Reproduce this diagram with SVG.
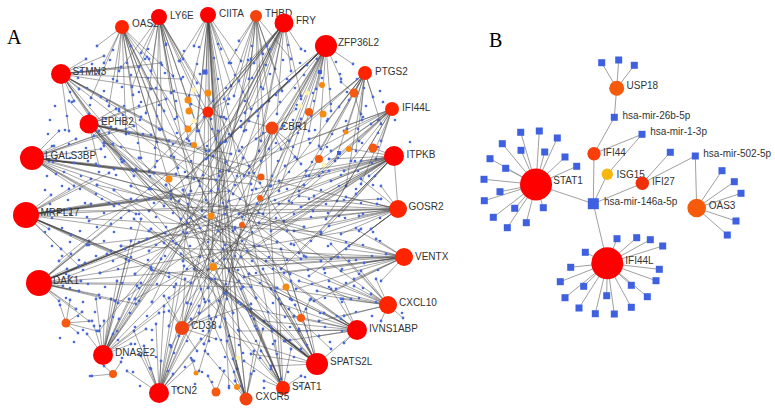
<svg xmlns="http://www.w3.org/2000/svg" xmlns:xlink="http://www.w3.org/1999/xlink" width="775" height="412" viewBox="0 0 775 412">
<style>
.e{fill:none;stroke:#444;stroke-width:.62;stroke-opacity:.78;marker-start:url(#dot);marker-mid:url(#dot);marker-end:url(#dot)}
.d{fill:none;stroke:#4a6ad8;stroke-width:2.7;stroke-linecap:round}
.be{fill:none;stroke:#a0a0a0;stroke-width:1}
.r1{fill:#ff0000}.r2{fill:#ff2400}.r3{fill:#f3430f}
.o1{fill:#f88a10}.o2{fill:#f55a12}.py{fill:#fff5b0}
.bs{fill:#3f60e0}
.t{font-family:"Liberation Sans",Arial,sans-serif;font-size:10px;fill:#333}
.p{font-family:"Liberation Serif","Times New Roman",serif;font-size:20px;fill:#000}
</style>
<defs>
<marker id="dot" viewBox="-2 -2 4 4" refX="0" refY="0" markerWidth="4" markerHeight="4" markerUnits="userSpaceOnUse"><circle r="1.4" fill="#4a6ad8"/></marker>
<rect id="sq" class="bs" x="-3.5" y="-3.5" width="7" height="7"/>
</defs>
<rect width="775" height="412" fill="#fff"/>
<text class="p" x="7" y="44">A</text>
<text class="p" x="489" y="47">B</text>
<g id="edges-a">
<path class="e" d="M122 27L104 63M122 27L117 81M122 27L133 95M122 27L147 57M122 27L151 89M122 27L164 111M122 27L126 134M122 27L141 158M122 27L173 76M122 27L109 106M122 27L157 142M122 27L186 127M122 27L97 46M122 27L178 168M122 27L205 302M122 27L91 98M122 27L272 331M122 27L233 313"/>
<path class="e" d="M159 17L141 53M159 17L151 71M159 17L166 44M159 17L171 93M159 17L183 59M159 17L146 113M159 17L197 83M159 17L162 129M159 17L189 141M159 17L132 87M159 17L177 117M159 17L206 151M159 17L119 71M159 17L155 167M159 17L191 191M159 17L211 119M159 17L291 299M159 17L256 298M159 17L304 256"/>
<path class="e" d="M208 15L206 73M208 15L194 46M208 15L221 49M208 15L231 86M208 15L213 101M208 15L197 131M208 15L226 141M208 15L241 61M208 15L219 176M208 15L202 211M208 15L233 231M208 15L213 261M208 15L227 299M208 15L209 341M208 15L237 369M208 15L189 96M208 15L251 109M208 15L179 61M208 15L229 388M208 15L246 399M208 15L283 388M208 15L183 261"/>
<path class="e" d="M256 16L239 41M256 16L263 54M256 16L249 79M256 16L275 69M256 16L234 96M256 16L269 101M256 16L244 131M256 16L291 59M256 16L221 117M256 16L259 151M256 16L229 63M256 16L282 91M256 16L281 379M256 16L199 313"/>
<path class="e" d="M284 23L267 46M284 23L254 63M284 23L239 81M284 23L224 99M284 23L204 117M284 23L187 139M284 23L171 156M284 23L149 171M284 23L263 89M284 23L245 113M284 23L231 136M284 23L213 156M284 23L291 71M284 23L301 96M284 23L277 114M284 23L261 141M284 23L199 181M284 23L179 201M284 23L301 49M284 23L229 171M284 23L139 301M284 23L220 327M284 23L152 302"/>
<path class="e" d="M326 46L307 65M326 46L289 81M326 46L276 95M326 46L257 111M326 46L241 127M326 46L221 143M326 46L206 159M326 46L187 177M326 46L171 191M326 46L149 211M326 46L301 99M326 46L284 126M326 46L269 149M326 46L249 173M326 46L233 194M326 46L316 89M326 46L309 131M326 46L297 159M326 46L279 191M326 46L263 214M326 46L341 79M326 46L331 111M326 46L319 146M326 46L353 64M326 46L99 331M326 46L59 261M326 46L169 326M326 46L204 344"/>
<path class="e" d="M365 73L355 92M365 73L339 107M365 73L327 121M365 73L347 129M365 73L321 149M365 73L361 114M365 73L373 97M365 73L335 161M365 73L309 176M365 73L356 151M365 73L299 126M365 73L381 124M365 73L289 201M365 73L346 186M365 73L149 251M365 73L187 303M365 73L135 274"/>
<path class="e" d="M392 109L371 124M392 109L359 141M392 109L344 131M392 109L351 161M392 109L331 151M392 109L319 176M392 109L376 159M392 109L299 191M392 109L337 201M392 109L361 184M392 109L309 139M392 109L285 166M392 109L381 141M392 109L326 219M392 109L89 221M392 109L118 303M392 109L169 298"/>
<path class="e" d="M394 156L371 147M394 156L361 161M394 156L344 171M394 156L331 181M394 156L314 196M394 156L301 207M394 156L284 221M394 156L271 231M394 156L254 246M394 156L241 257M394 156L351 149M394 156L329 159M394 156L306 171M394 156L279 181M394 156L256 189M394 156L229 201M394 156L369 176M394 156L356 194M394 156L339 216M394 156L321 234M394 156L299 253M394 156L281 269M394 156L69 276M394 156L398 209M394 156L100 273M394 156L135 299"/>
<path class="e" d="M398 209L377 204M398 209L359 216M398 209L346 197M398 209L329 226M398 209L313 211M398 209L294 231M398 209L279 204M398 209L259 223M398 209L239 214M398 209L371 229M398 209L349 246M398 209L331 259M398 209L309 276M398 209L291 244M398 209L381 186M398 209L361 179M398 209L341 234M398 209L299 196M398 209L59 211M398 209L87 245M398 209L104 143"/>
<path class="e" d="M404 257L386 254M404 257L364 263M404 257L346 249M404 257L324 269M404 257L306 257M404 257L284 273M404 257L266 261M404 257L244 277M404 257L224 259M404 257L376 239M404 257L354 279M404 257L336 289M404 257L314 301M404 257L296 289M404 257L209 269M404 257L381 281M404 257L359 231M404 257L341 271M404 257L49 161M404 257L97 185M404 257L121 246"/>
<path class="e" d="M388 305L371 294M388 305L354 286M388 305L341 299M388 305L361 271M388 305L349 261M388 305L329 281M388 305L317 291M388 305L376 279M388 305L344 316M388 305L319 321M388 305L381 321M388 305L331 244M388 305L299 281M388 305L403 318M388 305L119 111M388 305L152 270M388 305L131 186"/>
<path class="e" d="M357 330L341 319M357 330L324 313M357 330L311 299M357 330L294 316M357 330L281 304M357 330L264 321M357 330L251 309M357 330L343 299M357 330L319 336M357 330L299 331M357 330L331 289M357 330L344 343M357 330L285 341M357 330L271 289M357 330L249 274M357 330L239 331M357 330L89 131M357 330L122 162M357 330L149 231"/>
<path class="e" d="M317 364L301 349M317 364L284 341M317 364L271 327M317 364L254 319M317 364L241 304M317 364L224 293M317 364L211 279M317 364L194 269M317 364L181 254M317 364L164 243M317 364L151 229M317 364L134 219M317 364L299 329M317 364L289 309M317 364L275 291M317 364L263 269M317 364L247 251M317 364L235 229M317 364L306 309M317 364L291 281M317 364L281 249M317 364L229 336M317 364L251 354M317 364L271 366M317 364L69 101M317 364L357 330M317 364L139 158M317 364L114 190"/>
<path class="e" d="M283 388L271 369M283 388L261 351M283 388L257 329M283 388L247 309M283 388L241 289M283 388L229 271M283 388L223 249M283 388L275 341M283 388L291 349M283 388L264 381M283 388L244 361M283 388L209 301M283 388L279 299M283 388L301 376M283 388L149 59M283 388L166 185M283 388L104 143"/>
<path class="e" d="M246 399L235 381M246 399L233 359M246 399L227 341M246 399L225 319M246 399L219 301M246 399L215 279M246 399L251 374M246 399L254 351M246 399L241 386M246 399L205 351M246 399L263 329M246 399L211 319M246 399L218 131M246 399L183 190"/>
<path class="e" d="M159 393L151 369M159 393L161 361M159 393L171 347M159 393L179 336M159 393L191 319M159 393L199 306M159 393L144 346M159 393L156 324M159 393L164 306M159 393L176 284M159 393L184 266M159 393L141 356M159 393L134 331M159 393L201 339M159 393L209 331M159 393L127 371M159 393L194 361M159 393L173 374M159 393L301 119M159 393L226 162M159 393L262 106"/>
<path class="e" d="M182 328L169 311M182 328L191 304M182 328L201 289M182 328L164 296M182 328L209 316M182 328L216 339M182 328L197 351M182 328L226 294M182 328L171 346M182 328L239 281M182 328L251 304M182 328L185 279M182 328L251 59M182 328L270 186"/>
<path class="e" d="M103 355L113 334M103 355L119 319M103 355L129 299M103 355L137 286M103 355L151 269M103 355L161 259M103 355L176 244M103 355L187 233M103 355L104 321M103 355L111 299M103 355L117 281M103 355L126 259M103 355L131 241M103 355L141 219M103 355L94 326M103 355L131 344M103 355L146 329M103 355L159 313M103 355L96 299M103 355L87 334M103 355L329 171M103 355L243 158M103 355L295 157"/>
<path class="e" d="M39 283L63 286M39 283L79 291M39 283L99 295M39 283L115 301M39 283L136 304M39 283L67 269M39 283L85 263M39 283L107 254M39 283L125 249M39 283L147 239M39 283L165 233M39 283L187 223M39 283L205 217M39 283L227 207M39 283L59 301M39 283L76 309M39 283L89 321M39 283L71 254M39 283L89 241M39 283L111 224M39 283L129 211M39 283L81 281M39 283L141 283M39 283L251 287M39 283L361 229M39 283L304 185M39 283L321 261"/>
<path class="e" d="M26 215L51 211M26 215L69 209M26 215L91 204M26 215L109 203M26 215L131 199M26 215L149 199M26 215L171 195M26 215L189 195M26 215L211 191M26 215L229 191M26 215L49 229M26 215L71 235M26 215L89 245M26 215L111 251M26 215L129 261M26 215L151 267M26 215L169 277M26 215L191 283M26 215L51 195M26 215L69 189M26 215L91 179M26 215L109 173M26 215L61 249M26 215L79 266M26 215L381 199M26 215L321 232M26 215L338 257"/>
<path class="e" d="M32 158L56 159M32 158L74 163M32 158L96 164M32 158L114 169M32 158L136 169M32 158L154 173M32 158L176 174M32 158L194 179M32 158L216 180M32 158L54 146M32 158L76 139M32 158L94 136M32 158L116 129M32 158L134 126M32 158L56 174M32 158L74 186M32 158L96 194M32 158L114 206M32 158L136 214M32 158L59 131M32 158L101 149M32 158L251 184M32 158L351 299M32 158L304 227M32 158L277 242"/>
<path class="e" d="M89 124L111 127M89 124L129 133M89 124L151 135M89 124L169 141M89 124L191 144M89 124L209 151M89 124L231 154M89 124L104 146M89 124L121 159M89 124L134 176M89 124L151 189M89 124L164 206M89 124L181 219M89 124L116 109M89 124L139 106M89 124L166 99M89 124L99 166M89 124L249 166M89 124L331 349M89 124L277 288M89 124L290 274"/>
<path class="e" d="M61 74L81 71M61 74L99 71M61 74L121 67M61 74L139 67M61 74L161 63M61 74L79 89M61 74L101 97M61 74L119 109M61 74L141 117M61 74L159 129M61 74L74 101M61 74L89 114M61 74L99 131M61 74L113 144M61 74L124 161M61 74L86 59M61 74L104 56M61 74L181 79M61 74L199 96M61 74L69 131M61 74L301 259M61 74L243 287M61 74L260 183"/>
<path class="e" d="M272 128L256 139M272 128L261 161M272 128L281 149M272 128L289 141M272 128L249 121M272 128L296 109M272 128L239 151M272 128L271 186M272 128L301 164M272 128L244 176M272 128L199 371"/>
<path class="e" d="M208 112L191 104M208 112L226 119M208 112L216 139M208 112L199 131M208 112L229 99"/>
<path class="e" d="M66 323L70 300M66 323L82 312M66 323L92 321M66 323L97 331M66 323L78 333M66 323L60 305M113 374L92 376M113 374L121 362M113 374L104 366M216 392L208 376M216 392L224 371M196 373L192 360M354 93L341 82M354 93L362 120M237 387L234 372M286 287L292 300M301 318L310 300M301 318L295 305"/>
</g>
<g id="mirna-dots-a">
<path class="d" d="M113 50h0M131 46h0M148 49h0M166 45h0M184 51h0M199 47h0M218 44h0M236 50h0M252 46h0M270 49h0M288 45h0M305 51h0M92 64h0M110 60h0M127 63h0M145 59h0M162 65h0M180 61h0M197 64h0M214 58h0M231 63h0M248 60h0M266 65h0M283 60h0M300 63h0M317 59h0M336 62h0M78 78h0M96 74h0M113 79h0M131 75h0M148 78h0M165 73h0M183 77h0M200 74h0M218 79h0M235 75h0M252 78h0M270 74h0M287 79h0M304 75h0M322 78h0M340 74h0M357 79h0M70 92h0M87 88h0M104 91h0M122 87h0M139 92h0M156 88h0M174 91h0M226 88h0M243 92h0M261 87h0M278 91h0M295 88h0M313 93h0M330 89h0M347 92h0M364 88h0M380 91h0M55 106h0M72 102h0M90 105h0M107 101h0M124 106h0M141 102h0M159 105h0M176 101h0M228 104h0M245 101h0M262 106h0M280 102h0M297 105h0M314 101h0M331 104h0M349 100h0M366 106h0M383 102h0M50 120h0M67 116h0M106 119h0M123 115h0M140 120h0M157 116h0M175 119h0M224 117h0M241 121h0M258 116h0M293 120h0M311 116h0M328 119h0M346 121h0M363 117h0M378 120h0M48 134h0M65 130h0M109 133h0M126 129h0M143 134h0M160 130h0M177 133h0M212 129h0M229 134h0M246 130h0M263 133h0M281 129h0M298 133h0M315 130h0M332 134h0M358 129h0M378 133h0M52 146h0M69 144h0M86 148h0M104 143h0M121 147h0M138 143h0M155 148h0M173 144h0M207 146h0M225 142h0M242 147h0M276 143h0M293 147h0M310 143h0M327 147h0M362 143h0M378 147h0M53 162h0M70 158h0M88 161h0M105 157h0M122 162h0M139 158h0M157 161h0M174 157h0M191 161h0M208 158h0M226 162h0M243 158h0M278 161h0M295 157h0M312 162h0M338 158h0M355 161h0M372 163h0M47 176h0M64 172h0M81 176h0M99 172h0M116 175h0M133 171h0M150 176h0M185 172h0M203 175h0M220 171h0M237 176h0M254 173h0M272 176h0M289 172h0M306 176h0M323 172h0M341 175h0M358 171h0M375 176h0M45 190h0M62 186h0M80 189h0M97 185h0M114 190h0M131 186h0M149 189h0M166 185h0M183 190h0M200 186h0M218 189h0M235 185h0M252 190h0M270 186h0M287 189h0M304 185h0M321 190h0M339 186h0M356 189h0M373 185h0M50 204h0M68 200h0M85 203h0M102 199h0M119 204h0M137 200h0M154 203h0M171 199h0M188 204h0M206 200h0M223 203h0M240 199h0M257 204h0M275 200h0M292 203h0M309 199h0M326 204h0M344 200h0M361 203h0M378 199h0M52 218h0M70 214h0M87 217h0M104 213h0M121 218h0M139 214h0M156 217h0M173 213h0M190 218h0M225 214h0M242 217h0M259 213h0M276 218h0M294 214h0M311 217h0M328 213h0M345 218h0M363 214h0M380 218h0M45 232h0M62 228h0M80 231h0M97 227h0M114 232h0M131 228h0M149 231h0M166 227h0M183 232h0M200 228h0M218 231h0M235 227h0M252 232h0M287 231h0M304 227h0M321 232h0M356 228h0M373 232h0M52 246h0M70 242h0M87 245h0M104 241h0M121 246h0M139 242h0M156 245h0M173 241h0M190 246h0M208 242h0M225 245h0M242 241h0M259 246h0M277 242h0M294 245h0M311 241h0M328 246h0M346 242h0M363 245h0M380 241h0M62 256h0M79 260h0M96 256h0M113 261h0M131 257h0M148 260h0M165 256h0M183 261h0M200 257h0M235 256h0M252 261h0M269 257h0M287 260h0M304 256h0M321 261h0M338 257h0M356 260h0M372 256h0M66 274h0M83 270h0M100 273h0M118 269h0M135 274h0M152 270h0M169 273h0M187 269h0M238 270h0M256 273h0M273 269h0M290 274h0M308 270h0M325 273h0M342 269h0M359 274h0M378 270h0M70 288h0M88 284h0M105 287h0M122 283h0M139 288h0M157 284h0M174 287h0M191 283h0M208 288h0M226 284h0M243 287h0M260 283h0M277 288h0M312 284h0M329 287h0M346 283h0M363 288h0M66 298h0M83 302h0M100 298h0M118 303h0M135 299h0M152 302h0M169 298h0M187 303h0M204 299h0M238 302h0M256 298h0M273 303h0M290 299h0M325 298h0M342 302h0M359 298h0M376 302h0M78 316h0M95 312h0M113 317h0M130 313h0M147 316h0M164 312h0M199 313h0M216 317h0M233 313h0M251 316h0M268 312h0M285 317h0M320 313h0M337 316h0M356 312h0M372 316h0M83 330h0M100 326h0M117 331h0M135 327h0M152 330h0M169 326h0M203 331h0M220 327h0M238 330h0M255 326h0M272 331h0M290 327h0M307 331h0M325 327h0M342 331h0M118 340h0M135 344h0M152 340h0M170 345h0M187 341h0M204 344h0M221 340h0M239 345h0M256 341h0M273 344h0M290 340h0M307 345h0M330 342h0M122 358h0M139 354h0M156 357h0M174 353h0M191 358h0M208 354h0M225 357h0M243 353h0M260 358h0M277 354h0M294 357h0M133 372h0M150 368h0M168 371h0M185 367h0M202 372h0M220 368h0M254 371h0M271 367h0M288 372h0M305 377h0M140 386h0M178 388h0M195 384h0M212 382h0M229 386h0M264 388h0M300 386h0M90 376h0M402 313h0M60 338h0M74 342h0M410 142h0M395 120h0"/>
</g>
<g id="minor-nodes-a">
<circle class="o1" cx="188" cy="100" r="3.5"/><circle class="o1" cx="208" cy="93" r="3.5"/><circle class="o1" cx="189" cy="111" r="3.5"/><circle class="o1" cx="188" cy="129" r="3.5"/><circle class="o1" cx="194" cy="145" r="3"/><circle class="o1" cx="169" cy="179" r="3.5"/><circle class="o1" cx="211" cy="216" r="3.5"/><circle class="o1" cx="213" cy="267" r="4"/><circle class="o2" cx="66" cy="323" r="4.5"/><circle class="o2" cx="113" cy="374" r="4"/><circle class="o1" cx="196" cy="373" r="2.5"/><circle class="o2" cx="216" cy="392" r="4.5"/><circle class="o1" cx="286" cy="287" r="3.5"/><circle class="o2" cx="301" cy="318" r="4"/><circle class="o1" cx="237" cy="387" r="3"/><circle class="o1" cx="322" cy="85" r="3"/><circle class="o2" cx="309" cy="112" r="4"/><circle class="o1" cx="323" cy="114" r="3.5"/><circle class="o1" cx="346" cy="132" r="2.5"/><circle class="o1" cx="349" cy="149" r="3"/><circle class="o2" cx="319" cy="159" r="4"/><circle class="o2" cx="261" cy="177" r="3.5"/><circle class="o2" cx="260" cy="198" r="3"/><circle class="o2" cx="242" cy="225" r="3"/><circle class="o2" cx="354" cy="93" r="4.5"/><circle class="o2" cx="373" cy="148" r="4.5"/><circle class="r2" cx="208" cy="112" r="5.5"/>
<circle class="py" cx="194" cy="90" r="2.5"/><circle class="py" cx="194" cy="121" r="2.5"/><circle class="py" cx="307" cy="93" r="2.5"/><circle class="py" cx="300" cy="106" r="2.5"/><circle class="py" cx="324" cy="165" r="2.5"/><circle class="py" cx="238" cy="358" r="2.5"/>
<rect class="bs" x="202.5" y="69.5" width="5" height="5"/><rect class="bs" x="318" y="70" width="4" height="4"/><rect class="bs" x="337" y="151" width="4" height="4"/>
</g>
<g id="a-oas2"><circle class="r2" cx="122" cy="27" r="7"/><text class="t" x="132" y="27">OAS2</text></g>
<g id="a-ly6e"><circle class="r1" cx="159" cy="17" r="8"/><text class="t" x="170" y="18.5">LY6E</text></g>
<g id="a-ciita"><circle class="r1" cx="208" cy="15" r="8"/><text class="t" x="219" y="17">CIITA</text></g>
<g id="a-thbd"><circle class="r3" cx="256" cy="16" r="6"/><text class="t" x="265" y="17">THBD</text></g>
<g id="a-fry"><circle class="r1" cx="284" cy="23" r="9.5"/><text class="t" x="296" y="23.5">FRY</text></g>
<g id="a-zfp36l2"><circle class="r1" cx="326" cy="46" r="11"/><text class="t" x="338" y="46">ZFP36L2</text></g>
<g id="a-ptgs2"><circle class="r2" cx="365" cy="73" r="7"/><text class="t" x="375" y="74.5">PTGS2</text></g>
<g id="a-ifi44l"><circle class="r2" cx="392" cy="109" r="7"/><text class="t" x="402" y="111">IFI44L</text></g>
<g id="a-cbr1"><circle class="r3" cx="272" cy="128" r="6.5"/><text class="t" x="281" y="129.5">CBR1</text></g>
<g id="a-itpkb"><circle class="r1" cx="394" cy="156" r="10"/><text class="t" x="406.5" y="157.5">ITPKB</text></g>
<g id="a-gosr2"><circle class="r2" cx="398" cy="209" r="9"/><text class="t" x="408.5" y="210">GOSR2</text></g>
<g id="a-ventx"><circle class="r2" cx="404" cy="257" r="9"/><text class="t" x="415" y="259.5">VENTX</text></g>
<g id="a-cxcl10"><circle class="r2" cx="388" cy="305" r="9"/><text class="t" x="399" y="306">CXCL10</text></g>
<g id="a-ivns1abp"><circle class="r1" cx="357" cy="330" r="10"/><text class="t" x="369" y="332">IVNS1ABP</text></g>
<g id="a-spats2l"><circle class="r1" cx="317" cy="364" r="11"/><text class="t" x="330" y="365">SPATS2L</text></g>
<g id="a-stat1"><circle class="r2" cx="283" cy="388" r="7"/><text class="t" x="292" y="390">STAT1</text></g>
<g id="a-cxcr5"><circle class="r3" cx="246" cy="399" r="6.5"/><text class="t" x="255.5" y="400">CXCR5</text></g>
<g id="a-tcn2"><circle class="r1" cx="159" cy="393" r="10"/><text class="t" x="171" y="393.5">TCN2</text></g>
<g id="a-cd38"><circle class="r3" cx="182" cy="328" r="7"/><text class="t" x="191" y="328.5">CD38</text></g>
<g id="a-dnase2"><circle class="r1" cx="103" cy="355" r="10"/><text class="t" x="115" y="356">DNASE2</text></g>
<g id="a-dak1"><circle class="r1" cx="39" cy="283" r="13"/><text class="t" x="53" y="283.5">DAK1</text></g>
<g id="a-mrpl17"><circle class="r1" cx="26" cy="215" r="13"/><text class="t" x="40.5" y="216">MRPL17</text></g>
<g id="a-lgals3bp"><circle class="r1" cx="32" cy="158" r="12"/><text class="t" x="45" y="158.5">LGALS3BP</text></g>
<g id="a-ephb2"><circle class="r1" cx="89" cy="124" r="9.5"/><text class="t" x="101" y="125">EPHB2</text></g>
<g id="a-stmn3"><circle class="r1" cx="61" cy="74" r="10"/><text class="t" x="72.5" y="75">STMN3</text></g>
<g id="edges-b">
<path class="be" d="M536 184.5L520.7 132.3M536 184.5L539.3 131M536 184.5L557.3 138M536 184.5L502.3 143.7M536 184.5L521 150.3M536 184.5L544.7 152M536 184.5L565 157M536 184.5L490 158.7M536 184.5L505.7 168.3M536 184.5L576.7 166.3M536 184.5L484 179.3M536 184.5L500 191.7M536 184.5L484.3 200.7M536 184.5L514.7 208.3M536 184.5L493.3 217.3M536 184.5L507.3 227.7M536 184.5L526.3 222.7M536 184.5L543.3 207.7M536 184.5L593.3 203.7"/>
<path class="be" d="M607.3 263.3L617 238.7M607.3 263.3L636.7 237.7M607.3 263.3L650.3 239.7M607.3 263.3L662.7 246M607.3 263.3L585.3 252.3M607.3 263.3L659.3 269.3M607.3 263.3L570.7 267.3M607.3 263.3L656 280.7M607.3 263.3L560.3 281.7M607.3 263.3L583.7 286.3M607.3 263.3L631.3 285.3M607.3 263.3L647.3 296.7M607.3 263.3L565 297.7M607.3 263.3L606.7 295.7M607.3 263.3L579 308M607.3 263.3L631.3 307.3M607.3 263.3L595.3 313.7M607.3 263.3L614.3 314M607.3 263.3L593.3 203.7"/>
<path class="be" d="M616.7 88.3L601.7 62.7M616.7 88.3L618.7 60M616.7 88.3L634.3 65.3M616.7 88.3L614.3 117.3M594 153.7L614.3 117.3M594 153.7L642 134.3M594 153.7L593.3 203.7M607.3 174.3L642 134.3M607.3 174.3L593.3 203.7M642.3 183.3L670.3 152.3M642.3 183.3L695.3 156M642.3 183.3L593.3 203.7M696.7 208L695.3 156M696.7 208L722 170.7M696.7 208L734.3 181.7M696.7 208L741 193.3M696.7 208L736 221M696.7 208L727.3 235"/>
</g>
<g id="b-stat1-targets">
<use href="#sq" x="520.7" y="132.3"/><use href="#sq" x="539.3" y="131"/><use href="#sq" x="557.3" y="138"/><use href="#sq" x="502.3" y="143.7"/><use href="#sq" x="521" y="150.3"/><use href="#sq" x="544.7" y="152"/><use href="#sq" x="565" y="157"/><use href="#sq" x="490" y="158.7"/><use href="#sq" x="505.7" y="168.3"/><use href="#sq" x="576.7" y="166.3"/><use href="#sq" x="484" y="179.3"/><use href="#sq" x="500" y="191.7"/><use href="#sq" x="484.3" y="200.7"/><use href="#sq" x="514.7" y="208.3"/><use href="#sq" x="493.3" y="217.3"/><use href="#sq" x="507.3" y="227.7"/><use href="#sq" x="526.3" y="222.7"/><use href="#sq" x="543.3" y="207.7"/>
</g>
<g id="b-ifi44l-targets">
<use href="#sq" x="617" y="238.7"/><use href="#sq" x="636.7" y="237.7"/><use href="#sq" x="650.3" y="239.7"/><use href="#sq" x="662.7" y="246"/><use href="#sq" x="585.3" y="252.3"/><use href="#sq" x="659.3" y="269.3"/><use href="#sq" x="570.7" y="267.3"/><use href="#sq" x="656" y="280.7"/><use href="#sq" x="560.3" y="281.7"/><use href="#sq" x="583.7" y="286.3"/><use href="#sq" x="631.3" y="285.3"/><use href="#sq" x="647.3" y="296.7"/><use href="#sq" x="565" y="297.7"/><use href="#sq" x="606.7" y="295.7"/><use href="#sq" x="579" y="308"/><use href="#sq" x="631.3" y="307.3"/><use href="#sq" x="595.3" y="313.7"/><use href="#sq" x="614.3" y="314"/>
</g>
<g id="b-usp18-targets"><use href="#sq" x="601.7" y="62.7"/><use href="#sq" x="618.7" y="60"/><use href="#sq" x="634.3" y="65.3"/></g>
<g id="b-oas3-targets"><use href="#sq" x="722" y="170.7"/><use href="#sq" x="734.3" y="181.7"/><use href="#sq" x="741" y="193.3"/><use href="#sq" x="736" y="221"/><use href="#sq" x="727.3" y="235"/><use href="#sq" x="670.3" y="152.3"/></g>
<g id="b-mir26b"><use href="#sq" x="614.3" y="117.3"/><text class="t" x="622.5" y="118.5">hsa-mir-26b-5p</text></g>
<g id="b-mir1"><use href="#sq" x="642" y="134.3"/><text class="t" x="650.3" y="135">hsa-mir-1-3p</text></g>
<g id="b-mir502"><use href="#sq" x="695.3" y="156"/><text class="t" x="703.3" y="157">hsa-mir-502-5p</text></g>
<g id="b-mir146a"><rect class="bs" x="587.8" y="198.2" width="11" height="11"/><text class="t" x="604" y="204.5">hsa-mir-146a-5p</text></g>
<g id="b-usp18"><circle cx="616.7" cy="88.3" r="7.5" fill="#f65b0c"/><text class="t" x="626.5" y="89">USP18</text></g>
<g id="b-ifi44"><circle cx="594" cy="153.7" r="6.7" fill="#f93d0b"/><text class="t" x="603" y="155.8">IFI44</text></g>
<g id="b-isg15"><circle cx="607.3" cy="174.3" r="5.7" fill="#f6b70f"/><text class="t" x="616.5" y="177.5">ISG15</text></g>
<g id="b-ifi27"><circle cx="642.3" cy="183.3" r="6.7" fill="#f0300a"/><text class="t" x="652" y="185">IFI27</text></g>
<g id="b-stat1"><circle class="r1" cx="536" cy="184.5" r="16"/><text class="t" x="553.3" y="183.5">STAT1</text></g>
<g id="b-ifi44l"><circle class="r1" cx="607.3" cy="263.3" r="16"/><text class="t" x="625.3" y="263.5">IFI44L</text></g>
<g id="b-oas3"><circle cx="696.7" cy="208" r="9.3" fill="#f65b0c"/><text class="t" x="708.7" y="209">OAS3</text></g>
</svg>
